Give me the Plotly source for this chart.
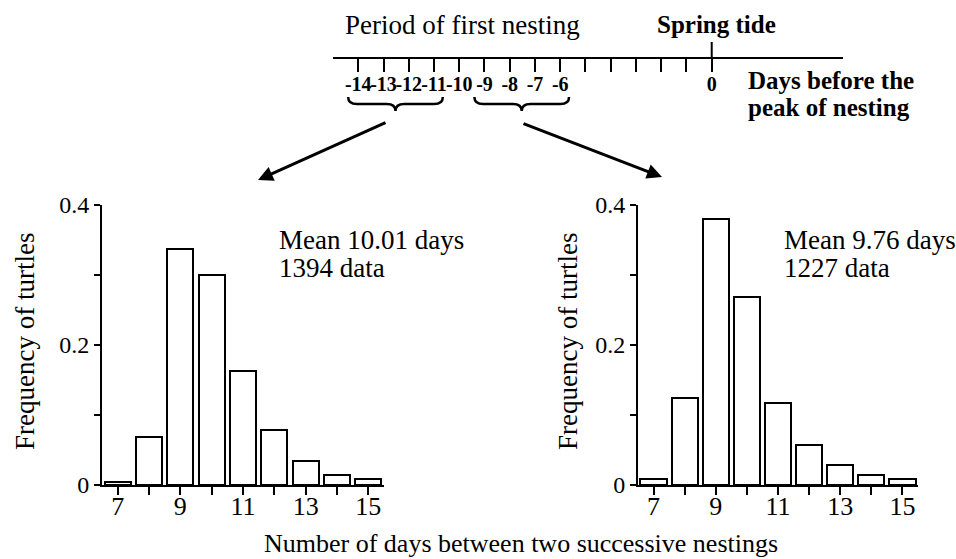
import plotly.graph_objects as go

# ---------------- data ----------------
days = [7, 8, 9, 10, 11, 12, 13, 14, 15]
freq_early = [0.005, 0.069, 0.337, 0.300, 0.163, 0.078, 0.034, 0.014, 0.009]
freq_late = [0.009, 0.125, 0.380, 0.268, 0.117, 0.057, 0.029, 0.014, 0.009]
mean_days = [10.01, 9.76]
n_data = [1394, 1227]
x_tick_labels = ['7', '', '9', '', '11', '', '13', '', '15']
y_tick_vals = [0, 0.1, 0.2, 0.3, 0.4]
y_tick_labels = ['0', '', '0.2', '', '0.4']
timeline_days = list(range(-14, 1))
timeline_labels = ['-14', '-13', '-12', '-11', '-10', '-9', '-8', '-7', '-6',
                   '', '', '', '', '', '0']
brace_groups = [(-14, -11), (-9, -6)]

W, H = 956, 559
FONT = "Liberation Serif"


def px(x):
    return x / W


def py(y):
    return 1 - y / H


fig = go.Figure()

bar_style = dict(marker=dict(color="white", line=dict(color="black", width=2)),
                 width=0.84, showlegend=False, hoverinfo="skip")
fig.add_trace(go.Bar(x=days, y=freq_early, xaxis="x", yaxis="y", **bar_style))
fig.add_trace(go.Bar(x=days, y=freq_late, xaxis="x2", yaxis="y2", **bar_style))
# invisible point to instantiate timeline axis
fig.add_trace(go.Scatter(x=[0], y=[0.5], xaxis="x3", yaxis="y3", mode="markers",
                         marker=dict(opacity=0), showlegend=False, hoverinfo="skip"))

xaxis_common = dict(range=[6.5, 15.5], tickvals=days, ticktext=x_tick_labels,
                    ticks="outside", ticklen=8, tickwidth=2, tickcolor="black",
                    showline=True, linewidth=2, linecolor="black", tickangle=0,
                    ticklabelstandoff=-11,
                    showgrid=False, zeroline=False, fixedrange=True, automargin=False,
                    tickfont=dict(family=FONT, size=26, color="black"))
yaxis_common = dict(range=[0, 0.4], tickvals=y_tick_vals, ticktext=y_tick_labels,
                    ticks="outside", ticklen=6, tickwidth=2, tickcolor="black",
                    showline=True, linewidth=2, linecolor="black",
                    showgrid=False, zeroline=False, fixedrange=True, automargin=False,
                    tickfont=dict(family=FONT, size=24, color="black"))

ydom = [py(485), py(205)]
fig.update_layout(
    template="none",
    width=W, height=H, margin=dict(l=0, r=0, t=0, b=0, pad=0),
    paper_bgcolor="white", plot_bgcolor="white",
    font=dict(family=FONT, color="black"),
    bargap=0, showlegend=False,
    xaxis=dict(domain=[px(102), px(384)], anchor="y", **xaxis_common),
    yaxis=dict(domain=ydom, anchor="x", **yaxis_common),
    xaxis2=dict(domain=[px(638), px(918)], anchor="y2", **xaxis_common),
    yaxis2=dict(domain=ydom, anchor="x2", **yaxis_common),
    xaxis3=dict(domain=[px(333), px(843)], anchor="y3", range=[-15, 5.2],
                tickvals=timeline_days, ticktext=timeline_labels, tickangle=0,
                ticks="outside", ticklen=13, tickwidth=2, tickcolor="black",
                ticklabelstandoff=-5,
                showline=True, linewidth=2, linecolor="black",
                showgrid=False, zeroline=False, fixedrange=True, automargin=False,
                tickfont=dict(family=FONT, size=20, color="black", weight="bold")),
    yaxis3=dict(domain=[py(57), py(40)], anchor="x3", range=[0, 1], visible=False,
                fixedrange=True, automargin=False),
)

# spring tide tick above the line
fig.add_shape(type="line", xref="x3", yref="paper", x0=0, x1=0,
              y0=py(57), y1=py(42), line=dict(color="black", width=2))

# braces
for a, b in brace_groups:
    xl, xr = a - 0.4, b + 0.35
    xm = (xl + xr) / 2
    d = 0.35
    yt, ym, yb = py(97), py(104), py(111)
    path = (f"M {xl},{yt} Q {xl},{ym} {xl + d},{ym} L {xm - d},{ym} "
            f"Q {xm},{ym} {xm},{yb} Q {xm},{ym} {xm + d},{ym} "
            f"L {xr - d},{ym} Q {xr},{ym} {xr},{yt}")
    fig.add_shape(type="path", xref="x3", yref="paper", path=path,
                  line=dict(color="black", width=2.5))

# arrows
fig.add_annotation(x=px(258), y=py(180), xref="paper", yref="paper", text="",
                   showarrow=True, ax=129, ay=-58, arrowhead=2, arrowsize=1,
                   arrowwidth=3, arrowcolor="black")
fig.add_annotation(x=px(662), y=py(177), xref="paper", yref="paper", text="",
                   showarrow=True, ax=-140, ay=-54, arrowhead=2, arrowsize=1,
                   arrowwidth=3, arrowcolor="black")


def txt(x, y, s, size, anchor="center", angle=0):
    fig.add_annotation(x=px(x), y=py(y), xref="paper", yref="paper", text=s,
                       showarrow=False, xanchor=anchor, yanchor="middle",
                       textangle=angle,
                       font=dict(family=FONT, size=size, color="black"))


txt(462, 25, "Period of first nesting", 27)
txt(716, 25, "<b>Spring tide</b>", 25)
txt(746, 80, "<b>Days before the</b>", 25, anchor="left")
txt(746, 107, "<b>peak of nesting</b>", 25, anchor="left")

txt(25, 342, "Frequency of turtles", 27, angle=-90)
txt(568, 342, "Frequency of turtles", 27, angle=-90)

txt(277, 240, f"Mean {mean_days[0]:.2f} days", 27, anchor="left")
txt(277, 268, f"{n_data[0]} data", 27, anchor="left")
txt(782, 240, f"Mean {mean_days[1]:.2f} days", 27, anchor="left")
txt(782, 268, f"{n_data[1]} data", 27, anchor="left")

txt(521, 543, "Number of days between two successive nestings", 26)

fig.write_html("out.html")
